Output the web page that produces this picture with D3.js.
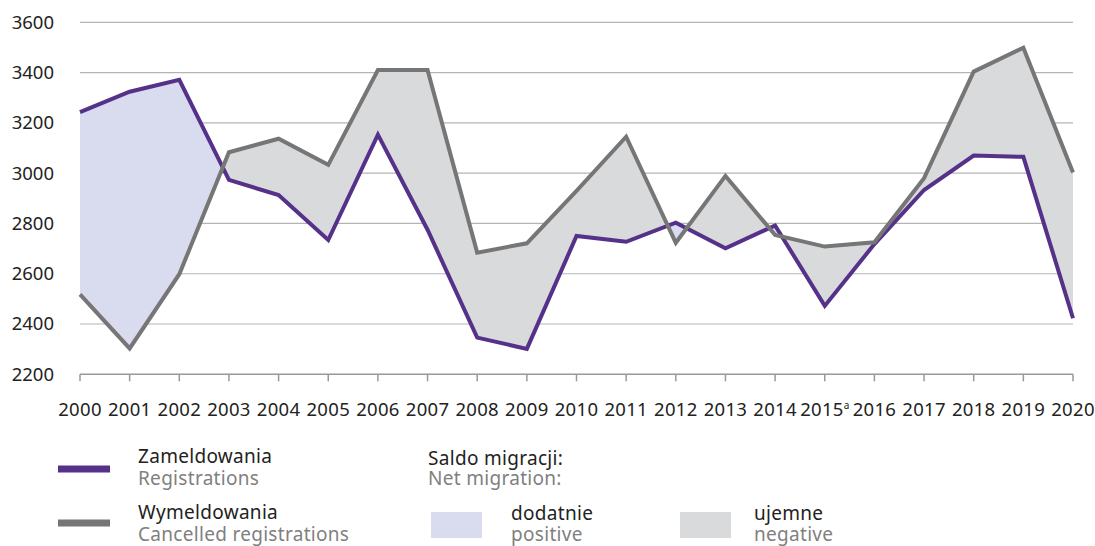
<!DOCTYPE html>
<html>
<head>
<meta charset="utf-8">
<script src="https://cdn.jsdelivr.net/npm/d3@7"></script>
<style>
  html, body { margin: 0; padding: 0; background: #fff; }
  svg { display: block; font-family: "Noto Sans", "Open Sans", sans-serif; }
</style>
</head>
<body>
<svg id="chart" width="1095" height="546"></svg>
<script>
// ---- data ----
const years = ["2000","2001","2002","2003","2004","2005","2006","2007","2008","2009","2010",
               "2011","2012","2013","2014","2015","2016","2017","2018","2019","2020"];
const yearNotes = ["","","","","","","","","","","","","","","","a","","","","",""];
const registrations = [3243,3324,3371,2973,2913,2734,3153,2775,2346,2301,2750,
                       2727,2803,2701,2792,2472,2718,2933,3070,3065,2423];
const cancelled = [2518,2303,2598,3083,3137,3033,3410,3410,2684,2721,2930,
                   3145,2723,2989,2754,2708,2725,2980,3404,3499,3003];
const yTicks = [2200,2400,2600,2800,3000,3200,3400,3600];

const data = years.map((y, i) => ({ year: y, note: yearNotes[i], reg: registrations[i], canc: cancelled[i] }));

// ---- layout ----
const svg = d3.select("#chart");
const x = d3.scalePoint().domain(years).range([80, 1073]);
const y = d3.scaleLinear().domain([2200, 3600]).range([374.3, 22.3]);

const purple = "#553189";
const grayLine = "#767676";
const posFill = "#d9dbef";
const negFill = "#d9dadb";

// gridlines
svg.append("g").selectAll("line").data(yTicks.filter(d => d > 2200)).join("line")
  .attr("x1", 80).attr("x2", 1073)
  .attr("y1", d => y(d)).attr("y2", d => y(d))
  .attr("stroke", "#b4b4b4").attr("stroke-width", 1.2);

// y labels
svg.append("g").selectAll("text").data(yTicks).join("text")
  .attr("x", 54).attr("y", d => y(d)).attr("dy", "0.35em")
  .attr("text-anchor", "end").attr("font-size", 18.5).attr("fill", "#222")
  .text(d => d);

// clip paths for difference fill
const defs = svg.append("defs");
defs.append("clipPath").attr("id", "clipAbove").append("path")
  .attr("d", d3.area().x(d => x(d.year)).y0(0).y1(d => y(d.canc))(data));
defs.append("clipPath").attr("id", "clipBelow").append("path")
  .attr("d", d3.area().x(d => x(d.year)).y0(546).y1(d => y(d.canc))(data));

const between = d3.area().x(d => x(d.year)).y0(d => y(d.reg)).y1(d => y(d.canc));
svg.append("path").attr("d", between(data)).attr("fill", posFill).attr("clip-path", "url(#clipAbove)");
svg.append("path").attr("d", between(data)).attr("fill", negFill).attr("clip-path", "url(#clipBelow)");

// x axis
const xAxis = svg.append("g");
xAxis.append("line").attr("x1", 80).attr("x2", 1073).attr("y1", y(2200)).attr("y2", y(2200))
  .attr("stroke", "#999").attr("stroke-width", 1.5);
xAxis.selectAll("line.tick").data(years).join("line").attr("class", "tick")
  .attr("x1", d => x(d)).attr("x2", d => x(d))
  .attr("y1", y(2200)).attr("y2", y(2200) + 7)
  .attr("stroke", "#999").attr("stroke-width", 1.5);
const xt = xAxis.selectAll("text").data(data).join("text")
  .attr("x", d => x(d.year)).attr("y", 416)
  .attr("text-anchor", "middle").attr("font-size", 18.5).attr("letter-spacing", 0.3).attr("fill", "#222");
xt.append("tspan").text(d => d.year);
xt.filter(d => d.note).append("tspan").attr("font-size", 10).attr("letter-spacing", 0)
  .attr("dy", -7).text(d => d.note);

// lines
const lineReg = d3.line().x(d => x(d.year)).y(d => y(d.reg));
const lineCanc = d3.line().x(d => x(d.year)).y(d => y(d.canc));
svg.append("path").attr("d", lineReg(data)).attr("fill", "none")
  .attr("stroke", purple).attr("stroke-width", 4);
svg.append("path").attr("d", lineCanc(data)).attr("fill", "none")
  .attr("stroke", grayLine).attr("stroke-width", 4);

// legend
const lg = svg.append("g").attr("font-size", 19).attr("letter-spacing", 0.3);
lg.append("line").attr("x1", 58).attr("x2", 110).attr("y1", 469).attr("y2", 469)
  .attr("stroke", purple).attr("stroke-width", 7);
lg.append("line").attr("x1", 58).attr("x2", 110).attr("y1", 523).attr("y2", 523)
  .attr("stroke", grayLine).attr("stroke-width", 7);
const txt = (xx, yy, s, c) => lg.append("text").attr("x", xx).attr("y", yy).attr("fill", c).text(s);
txt(138, 463, "Zameldowania", "#222");
txt(138, 485, "Registrations", "#808080");
txt(138, 519, "Wymeldowania", "#222");
txt(138, 541, "Cancelled registrations", "#808080");
txt(428, 465, "Saldo migracji:", "#222");
txt(428, 485, "Net migration:", "#808080");
lg.append("rect").attr("x", 431).attr("y", 512).attr("width", 51).attr("height", 26).attr("fill", posFill);
lg.append("rect").attr("x", 680).attr("y", 512).attr("width", 51).attr("height", 26).attr("fill", negFill);
txt(511, 520, "dodatnie", "#222");
txt(511, 541, "positive", "#808080");
txt(754, 520, "ujemne", "#222");
txt(754, 541, "negative", "#808080");
</script>
</body>
</html>
